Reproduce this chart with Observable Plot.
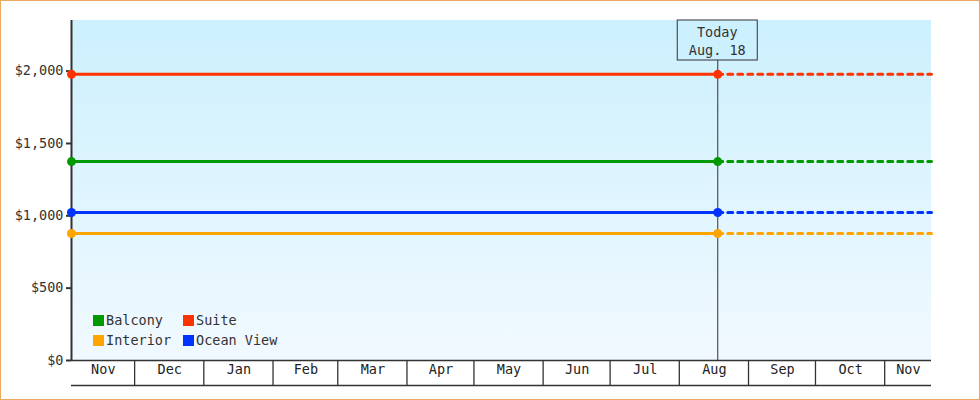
<!DOCTYPE html>
<html>
<head>
<meta charset="utf-8">
<script src="https://cdn.jsdelivr.net/npm/d3@7"></script>
<script src="https://cdn.jsdelivr.net/npm/@observablehq/plot@0.6"></script>
<style>
  html, body { margin: 0; padding: 0; background: #fff; }
  #wrap { position: relative; width: 980px; height: 400px; overflow: hidden; }
  #frame { position: absolute; left: 0; top: 0; width: 980px; height: 400px; box-sizing: border-box; border: 1px solid #e9a961; pointer-events: none; }
</style>
</head>
<body>
<div id="wrap"><div id="chart"></div><div id="frame"></div></div>
<script>
// ---- data ----
const categories = ["Balcony", "Suite", "Interior", "Ocean View"];
const colors = ["#009900", "#ff3300", "#ffa500", "#0033ff"];
const prices = [1375, 1978, 878, 1023];
const startDate = new Date("2023-11-02T12:00:00Z");
const todayDate = new Date("2024-08-18T00:00:00Z");
const endDate = new Date("2024-11-21T18:00:00Z");
const todayLabel = ["Today", "Aug. 18"];
const monthNames = ["Nov", "Dec", "Jan", "Feb", "Mar", "Apr", "May", "Jun", "Jul", "Aug", "Sep", "Oct", "Nov"];
const yTicks = [0, 500, 1000, 1500, 2000];
const yMax = 2350;

// ---- derived tables ----
const solid = categories.flatMap((c, i) => [
  {cat: c, date: startDate, price: prices[i]},
  {cat: c, date: todayDate, price: prices[i]}
]);
const dashed = categories.flatMap((c, i) => [
  {cat: c, date: todayDate, price: prices[i]},
  {cat: c, date: endDate, price: prices[i]}
]);
const monthStarts = d3.utcMonths(d3.utcMonth.floor(startDate), d3.utcMonth.offset(d3.utcMonth.floor(endDate), 1));
const months = monthStarts.map((m, i) => {
  const a = m < startDate ? startDate : m;
  const nxt = d3.utcMonth.offset(m, 1);
  const b = nxt > endDate ? endDate : nxt;
  return {label: monthNames[i], mid: new Date((+a + +b) / 2)};
});
const separators = monthStarts.filter(m => m > startDate && m < endDate);

const FONT = "'DejaVu Sans Mono', monospace";
const FS = 13.5;

const background = (index, scales, values, dim) => {
  const g = d3.create("svg:g");
  const defs = g.append("defs");
  const lg = defs.append("linearGradient").attr("id", "bgGrad").attr("x1", 0).attr("y1", 0).attr("x2", 0).attr("y2", 1);
  lg.append("stop").attr("offset", "0%").attr("stop-color", "#ccf0fd");
  lg.append("stop").attr("offset", "100%").attr("stop-color", "#f1f9ff");
  g.append("rect")
    .attr("x", dim.marginLeft).attr("y", dim.marginTop)
    .attr("width", dim.width - dim.marginLeft - dim.marginRight)
    .attr("height", dim.height - dim.marginTop - dim.marginBottom)
    .attr("fill", "url(#bgGrad)");
  return g.node();
};

const todayBox = (index, scales, values, dim) => {
  const g = d3.create("svg:g");
  const cx = scales.x(todayDate);
  g.append("rect").attr("x", cx - 40).attr("y", dim.marginTop).attr("width", 80).attr("height", 40)
    .attr("fill", "#ccf0fd").attr("stroke", "#333").attr("stroke-width", 1);
  todayLabel.forEach((t, i) => {
    g.append("text").attr("x", cx).attr("y", dim.marginTop + 12.5 + i * 18)
      .attr("text-anchor", "middle").attr("dy", "0.35em")
      .attr("font-family", FONT).attr("font-size", FS).attr("fill", "#333").text(t);
  });
  return g.node();
};

const legend = (index, scales, values, dim) => {
  const g = d3.create("svg:g");
  const x0 = dim.marginLeft + 22, y0 = dim.height - dim.marginBottom - 45;
  categories.forEach((c, i) => {
    const col = i % 2, row = Math.floor(i / 2);
    const x = x0 + col * 90, y = y0 + row * 20;
    g.append("rect").attr("x", x).attr("y", y).attr("width", 11).attr("height", 11).attr("fill", colors[i]);
    g.append("text").attr("x", x + 13).attr("y", y + 5.5).attr("dy", "0.35em")
      .attr("text-anchor", "start")
      .attr("font-family", FONT).attr("font-size", FS).attr("fill", "#333").text(c);
  });
  return g.node();
};

const chart = Plot.plot({
  width: 980,
  height: 400,
  marginLeft: 71,
  marginRight: 49,
  marginTop: 20,
  marginBottom: 40,
  style: {fontFamily: FONT, fontSize: FS + "px", color: "#333", background: "transparent", overflow: "visible"},
  x: {type: "utc", domain: [startDate, endDate], axis: null},
  y: {domain: [0, yMax], axis: null},
  color: {domain: categories, range: colors},
  marks: [
    background,
    // today vertical line
    Plot.ruleX([todayDate], {stroke: "#333", strokeWidth: 1}),
    // y axis
    Plot.axisY(yTicks, {tickSize: 5, tickPadding: 3, strokeWidth: 2, stroke: "#333", fill: "#333",
      fontSize: FS, tickFormat: d => "$" + d3.format(",")(d), label: null}),
    Plot.ruleX([startDate], {stroke: "#333", strokeWidth: 2}),
    // bottom month band
    Plot.ruleY([0], {x1: startDate, x2: endDate, stroke: "#333", strokeWidth: 1.3}),
    Plot.ruleY([0], {x1: startDate, x2: endDate, stroke: "#333", strokeWidth: 1.3, dy: 25}),
    Plot.ruleX(separators, {
      render: (index, scales, values, dim) => {
        const g = d3.create("svg:g");
        const y = dim.height - dim.marginBottom;
        index.forEach(i => {
          const x = scales.x(separators[i]);
          g.append("line").attr("x1", x).attr("x2", x).attr("y1", y).attr("y2", y + 25)
            .attr("stroke", "#333").attr("stroke-width", 1.3);
        });
        return g.node();
      }}),
    Plot.text(months, {x: "mid", text: "label", frameAnchor: "bottom", dy: 13, fill: "#222", fontSize: FS}),
    // series
    Plot.line(solid, {x: "date", y: "price", z: "cat", stroke: "cat", strokeWidth: 3}),
    Plot.line(dashed, {x: "date", y: "price", z: "cat", stroke: "cat", strokeWidth: 3, strokeDasharray: "5,5"}),
    Plot.dot(solid, {x: "date", y: "price", fill: "cat", r: 4.5}),
    todayBox,
    legend
  ]
});
document.getElementById("chart").appendChild(chart);
</script>
</body>
</html>
